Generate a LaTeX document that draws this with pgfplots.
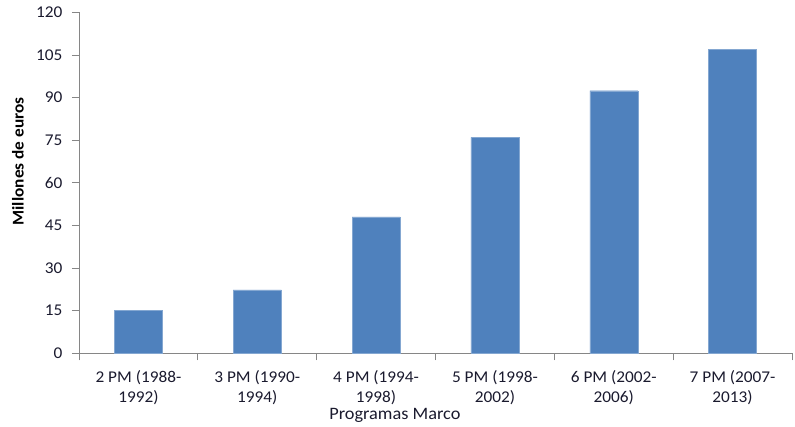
\documentclass[border=0pt]{standalone}
\usepackage{fontspec}
\setmainfont{Carlito}[FakeStretch=1.05]
\usepackage{pgfplots}
\pgfplotsset{compat=1.18}
\definecolor{barblue}{HTML}{4F81BD}
\definecolor{axgray}{HTML}{868686}
\definecolor{txt}{HTML}{1A1A2E}
\begin{document}
\begin{tikzpicture}
\useasboundingbox (-79bp,-73.7bp) rectangle (716bp,353.3bp);
\begin{axis}[
  scale only axis,
  width=713bp, height=341bp,
  xmin=-0.5, xmax=5.5,
  ymin=0, ymax=120,
  ytick={0,15,...,120},
  xtick={0,1,2,3,4,5},
  xticklabels={{2 PM (1988-\\1992)},{3 PM (1990-\\1994)},{4 PM (1994-\\1998)},{5 PM (1998-\\2002)},{6 PM (2002-\\2006)},{7 PM (2007-\\2013)}},
  minor xtick={-0.5,0.5,...,5.5},
  x tick label style={align=center, font=\fontsize{16.5}{20}\selectfont, text=txt, yshift=-7bp},
  y tick label style={font=\fontsize{16.5}{20}\selectfont, text=txt, xshift=-6bp},
  /pgf/number format/assume math mode=true,
  axis lines*=left,
  axis line style={axgray, line width=0.8pt},
  major x tick style={draw=none},
  minor x tick style={axgray, line width=0.8pt},
  y tick style={axgray, line width=0.8pt},
  tick align=outside,
  major tick length=7bp,
  minor tick length=7bp,
  ybar, bar width=48bp,
  clip=false,
  xlabel={Programas Marco},
  xlabel style={at={(rel axis cs:0.443,0)}, anchor=center, yshift=-62bp, font=\fontsize{17.5}{20}\selectfont, text=txt},
  ylabel={\textbf{Millones de euros}},
  ylabel style={at={(axis description cs:-0.0856,0.5625)}, anchor=center, font=\fontsize{16.5}{18}\selectfont, text=black},
]
\addplot[fill=barblue, draw=barblue!70!white, line width=0.4pt] coordinates {(0,15) (1,22.3) (2,48) (3,76) (4,92.4) (5,107)};
\end{axis}
\end{tikzpicture}
\end{document}
